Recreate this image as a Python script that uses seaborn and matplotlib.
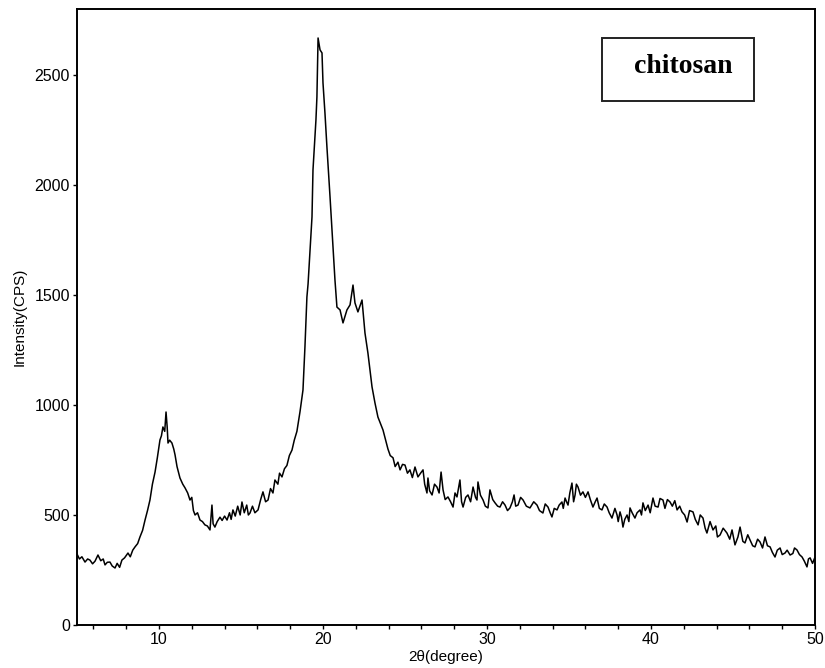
import numpy as np
import pandas as pd
import matplotlib
matplotlib.use("Agg")
import matplotlib.pyplot as plt
from matplotlib.ticker import MultipleLocator
from matplotlib.patches import Rectangle
import seaborn as sns

two_theta = [
    5.00, 5.15, 5.30, 5.49, 5.65, 5.79, 5.95, 6.10, 6.28, 6.45, 6.60, 6.71, 6.85, 7.01, 7.15,
    7.32, 7.45, 7.60, 7.74, 7.90, 8.11, 8.25, 8.40, 8.54, 8.70, 8.84, 9.00, 9.15, 9.30, 9.45,
    9.60, 9.76, 9.90, 10.06, 10.15, 10.24, 10.35, 10.43, 10.50, 10.55, 10.65, 10.79, 10.90,
    10.98, 11.10, 11.28, 11.45, 11.59, 11.75, 11.89, 12.00, 12.10, 12.20, 12.35, 12.50, 12.65,
    12.80, 12.95, 13.11, 13.23, 13.30, 13.41, 13.55, 13.72, 13.85, 14.00, 14.15, 14.30, 14.40,
    14.51, 14.65, 14.80, 14.95, 15.06, 15.20, 15.35, 15.45, 15.55, 15.70, 15.85, 16.04, 16.20,
    16.34, 16.50, 16.65, 16.80, 16.95, 17.07, 17.25, 17.35, 17.50, 17.65, 17.80, 17.95, 18.11,
    18.25, 18.41, 18.60, 18.78, 18.90, 19.02, 19.09, 19.33, 19.39, 19.57, 19.63, 19.70, 19.82,
    19.94, 20.00, 20.12, 20.24, 20.43, 20.61, 20.73, 20.85, 21.04, 21.22, 21.46, 21.65, 21.83,
    21.95, 22.13, 22.38, 22.56, 22.74, 22.99, 23.17, 23.35, 23.66, 23.96, 24.10, 24.27, 24.40,
    24.57, 24.70, 24.85, 25.00, 25.15, 25.30, 25.45, 25.61, 25.79, 25.95, 26.10, 26.20, 26.34,
    26.40, 26.50, 26.65, 26.80, 26.95, 27.08, 27.20, 27.32, 27.45, 27.62, 27.78, 27.93, 28.05,
    28.17, 28.35, 28.45, 28.54, 28.70, 28.84, 29.00, 29.15, 29.30, 29.39, 29.45, 29.60, 29.76,
    29.90, 30.06, 30.18, 30.35, 30.49, 30.65, 30.79, 30.95, 31.10, 31.25, 31.40, 31.55, 31.65,
    31.75, 31.89, 32.05, 32.20, 32.40, 32.62, 32.85, 33.05, 33.20, 33.41, 33.55, 33.72, 33.85,
    33.96, 34.10, 34.27, 34.40, 34.57, 34.65, 34.76, 34.85, 34.94, 35.05, 35.18, 35.28, 35.37,
    35.45, 35.55, 35.70, 35.85, 36.00, 36.16, 36.30, 36.46, 36.60, 36.71, 36.85, 37.01, 37.15,
    37.32, 37.45, 37.62, 37.80, 37.93, 38.00, 38.11, 38.20, 38.29, 38.40, 38.54, 38.65, 38.72,
    38.85, 39.02, 39.15, 39.33, 39.42, 39.51, 39.65, 39.82, 39.95, 40.12, 40.25, 40.43, 40.55,
    40.73, 40.85, 41.00, 41.16, 41.30, 41.45, 41.59, 41.75, 41.89, 42.05, 42.20, 42.35, 42.56,
    42.70, 42.87, 43.00, 43.17, 43.30, 43.41, 43.60, 43.78, 43.95, 44.05, 44.21, 44.40, 44.63,
    44.80, 44.94, 45.12, 45.30, 45.43, 45.60, 45.73, 45.90, 46.04, 46.20, 46.34, 46.50, 46.65,
    46.80, 46.95, 47.10, 47.26, 47.40, 47.56, 47.70, 47.87, 48.00, 48.17, 48.30, 48.48, 48.65,
    48.75, 48.90, 49.05, 49.21, 49.35, 49.51, 49.60, 49.70, 49.85, 50.00]

intensity = [
    323, 300, 310, 286, 300, 295, 278, 290, 318, 292, 300, 273, 285, 286, 268,
    259, 280, 262, 295, 305, 327, 310, 340, 355, 370, 400, 430, 477, 520, 568,
    640, 695, 760, 841, 860, 900, 880, 968, 900, 827, 840, 827, 800,
    773, 720, 668, 640, 623, 600, 568, 580, 520, 500, 510, 477, 470,
    455, 450, 432, 545, 460, 445, 470, 490, 475, 495, 477, 510, 480,
    523, 495, 540, 500, 559, 510, 545, 500, 509, 540, 510, 523, 570,
    605, 560, 568, 620, 600, 659, 640, 690, 673, 710, 725, 770, 795,
    840, 880, 970, 1068, 1264, 1491, 1550, 1855, 2068, 2295, 2400, 2668, 2614,
    2600, 2464, 2327, 2173, 1945, 1718, 1568, 1445, 1432, 1373, 1432, 1455, 1545,
    1464, 1423, 1477, 1327, 1236, 1082, 1009, 945, 886, 800, 770, 760, 720,
    740, 705, 730, 727, 690, 705, 670, 718, 673, 690, 705, 640, 600,
    668, 610, 591, 640, 627, 600, 695, 614, 570, 582, 560, 536, 600,
    582, 659, 560, 536, 580, 591, 560, 627, 580, 568, 650, 590, 568,
    540, 532, 614, 570, 555, 540, 536, 560, 545, 520, 532, 560, 591,
    540, 545, 580, 568, 540, 532, 560, 545, 520, 509, 550, 536, 510,
    491, 530, 523, 545, 559, 530, 577, 560, 545, 600, 645, 560, 591,
    640, 627, 590, 605, 580, 605, 570, 536, 560, 577, 530, 523, 550,
    536, 510, 486, 530, 500, 470, 514, 490, 445, 480, 500, 470, 532,
    510, 486, 510, 523, 500, 555, 520, 545, 510, 577, 540, 536, 575,
    568, 530, 570, 559, 540, 565, 523, 540, 514, 500, 468, 520, 514,
    480, 455, 500, 486, 440, 418, 470, 432, 450, 400, 409, 440, 418,
    390, 432, 364, 400, 445, 380, 373, 410, 386, 360, 355, 390, 377,
    350, 400, 360, 355, 330, 309, 340, 350, 320, 327, 340, 318, 325,
    350, 341, 320, 309, 290, 264, 300, 305, 280, 309]

x_major = [10, 20, 30, 40, 50]
y_major = [0, 500, 1000, 1500, 2000, 2500]

df = pd.DataFrame({"two_theta": two_theta, "intensity": intensity})

sns.set_style("ticks")
plt.rcParams["font.family"] = ["Liberation Sans", "DejaVu Sans"]
plt.rcParams["text.color"] = "black"
plt.rcParams["axes.labelcolor"] = "black"
plt.rcParams["xtick.color"] = "black"
plt.rcParams["ytick.color"] = "black"

fig = plt.figure(figsize=(8.25, 6.68), dpi=100)
ax = fig.add_axes([0.0933, 0.0644, 0.8946, 0.9222])

sns.lineplot(data=df, x="two_theta", y="intensity", ax=ax, color="black",
             linewidth=1.1, estimator=None, sort=False)

ax.set_xlim(5, 50)
ax.set_ylim(0, 2800)
ax.set_xticks(x_major)
ax.set_yticks(y_major)
ax.xaxis.set_minor_locator(MultipleLocator(2))
ax.tick_params(axis="both", which="both", direction="out", length=3, width=1,
               labelsize=11.5, pad=2, color="black", labelcolor="black")
for s in ax.spines.values():
    s.set_visible(True)
    s.set_linewidth(1.4)
    s.set_color("black")

ax.set_xlabel("2θ(degree)", fontsize=11, labelpad=2, color="black")
ax.set_ylabel("Intensity(CPS)", fontsize=11, labelpad=6, color="black")

ax.add_patch(Rectangle((0.711, 0.851), 0.206, 0.102, transform=ax.transAxes,
                       fill=False, edgecolor="#222222", linewidth=1.4))
ax.text(0.821, 0.906, "chitosan", transform=ax.transAxes, ha="center", va="center",
        fontsize=20, fontweight="bold", color="black",
        family=["Liberation Serif", "DejaVu Serif"])

fig.savefig("out.png", dpi=100)
